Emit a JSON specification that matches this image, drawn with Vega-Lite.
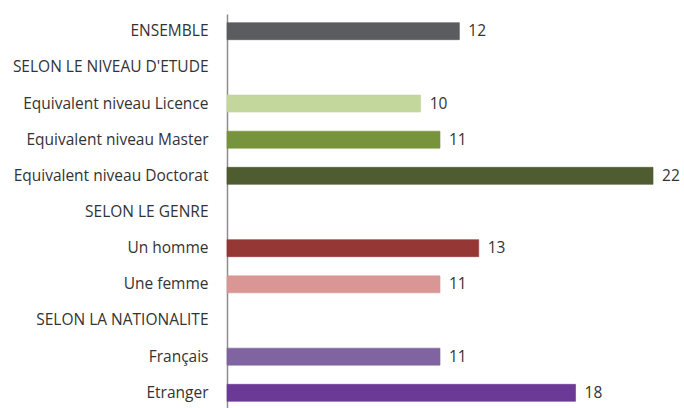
{
  "$schema": "https://vega.github.io/schema/vega-lite/v6.json",
  "autosize": "none",
  "padding": {"left": 227, "top": 14, "right": 0, "bottom": 0},
  "width": 457,
  "height": 396,
  "background": "white",
  "config": {"view": {"stroke": null}, "font": "Open Sans"},
  "data": {"values": [
    {"cat": "ENSEMBLE", "value": 12, "color": "#5b5c5f"},
    {"cat": "SELON LE NIVEAU D'ETUDE", "value": null, "color": "#ffffff"},
    {"cat": "Equivalent niveau Licence", "value": 10, "color": "#c3d69b"},
    {"cat": "Equivalent niveau Master", "value": 11, "color": "#77933c"},
    {"cat": "Equivalent niveau Doctorat", "value": 22, "color": "#4f5c30"},
    {"cat": "SELON LE GENRE", "value": null, "color": "#ffffff"},
    {"cat": "Un homme", "value": 13, "color": "#953735"},
    {"cat": "Une femme", "value": 11, "color": "#d99694"},
    {"cat": "SELON LA NATIONALITE", "value": null, "color": "#ffffff"},
    {"cat": "Français", "value": 11, "color": "#8064a2"},
    {"cat": "Etranger", "value": 18, "color": "#6b3a96"}
  ]},
  "encoding": {
    "y": {
      "field": "cat", "type": "nominal", "sort": null, "title": null,
      "scale": {
        "domain": ["ENSEMBLE", "SELON LE NIVEAU D'ETUDE", "Equivalent niveau Licence", "Equivalent niveau Master", "Equivalent niveau Doctorat", "SELON LE GENRE", "Un homme", "Une femme", "SELON LA NATIONALITE", "Français", "Etranger"],
        "paddingInner": 0.53, "paddingOuter": 0.24
      },
      "axis": {"domainColor": "#8c8c8c", "domainWidth": 1.5, "ticks": false, "labelPadding": 19, "labelFontSize": 15.5, "labelColor": "#333333", "labelFont": "Open Sans", "labelLimit": 300}
    }
  },
  "layer": [
    {
      "mark": {"type": "bar", "strokeWidth": 1},
      "encoding": {
        "x": {"field": "value", "type": "quantitative", "scale": {"domain": [0, 23.6], "nice": false}, "axis": null},
        "color": {"field": "color", "type": "nominal", "scale": null},
        "stroke": {"field": "color", "type": "nominal", "scale": null},
        "strokeOpacity": {"value": 0.6}
      }
    },
    {
      "transform": [{"filter": "datum.value != null"}],
      "mark": {"type": "text", "align": "left", "dx": 9, "fontSize": 15.5, "color": "#333333", "font": "Open Sans"},
      "encoding": {
        "x": {"field": "value", "type": "quantitative", "scale": {"domain": [0, 23.6], "nice": false}},
        "text": {"field": "value", "type": "quantitative"}
      }
    }
  ]
}
